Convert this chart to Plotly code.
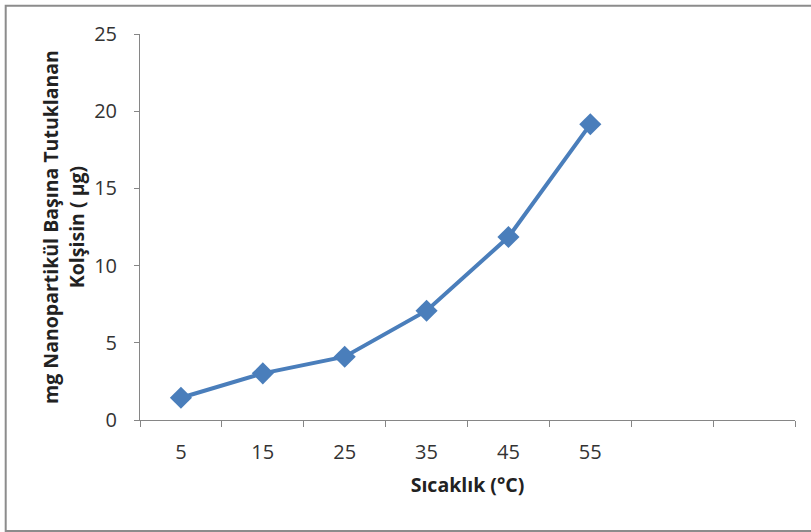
import plotly.graph_objects as go

categories = ["5", "15", "25", "35", "45", "55", " ", "  "]
temps = ["5", "15", "25", "35", "45", "55"]
values = [1.44, 3.02, 4.10, 7.08, 11.85, 19.15]
y_ticks = [0, 5, 10, 15, 20, 25]

blue = "#4A7EBB"
axis_gray = "#868686"
tick_font = dict(family="Open Sans, sans-serif", size=20, color="#333333")

fig = go.Figure()
fig.add_trace(go.Scatter(
    x=temps, y=values, mode="lines+markers",
    line=dict(color=blue, width=4),
    marker=dict(symbol="diamond", size=17, color=blue),
    showlegend=False,
))

L, R, T, B = 140, 795, 34, 420
PW, PH = R - L, B - T

fig.update_layout(
    width=811, height=532,
    margin=dict(l=L, r=811 - R, t=T, b=532 - B),
    paper_bgcolor="white", plot_bgcolor="white",
    font=dict(family="Open Sans, sans-serif", size=15, color="#333333"),
    xaxis=dict(
        type="category", categoryorder="array", categoryarray=categories,
        range=[-0.5, 7.5], tickson="boundaries",
        showline=True, linecolor=axis_gray, linewidth=1,
        ticks="outside", ticklen=6, tickcolor=axis_gray,
        ticklabelstandoff=14, tickfont=tick_font,
        showgrid=False, zeroline=False,
        title=dict(text="<b>Sıcaklık (°C)</b>", standoff=14,
                   font=dict(family="Open Sans, sans-serif", size=19.5, color="#222222")),
    ),
    yaxis=dict(
        range=[0, 25], tickvals=y_ticks,
        showline=True, linecolor=axis_gray, linewidth=1,
        ticks="outside", ticklen=5, tickcolor=axis_gray,
        ticklabelstandoff=13, tickfont=tick_font,
        showgrid=False, zeroline=False,
        title=dict(text="<b>mg Nanopartikül Başına Tutuklanan<br>Kolşisin ( µg)</b>", standoff=4,
                   font=dict(family="Open Sans, sans-serif", size=19.5, color="#222222")),
    ),
    shapes=[dict(type="rect", xref="paper", yref="paper",
                 x0=(5.7 - L) / PW, x1=(815 - L) / PW,
                 y0=(B - 531) / PH, y1=(B - 5.7) / PH,
                 line=dict(color="#8C8C8C", width=2), fillcolor="rgba(0,0,0,0)", layer="below")],
)

fig.write_html("out.html", config={"displayModeBar": False},
               post_script="document.body.style.margin='0';")
